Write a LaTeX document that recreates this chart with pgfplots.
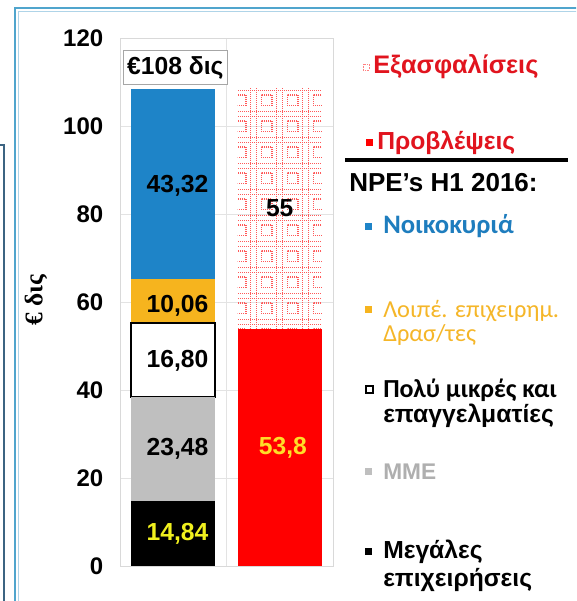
\documentclass[border=0pt]{standalone}
\usepackage{fontspec}
\setmainfont{Liberation Sans}
\newfontfamily\serifgr{Liberation Serif}
\newfontfamily\calib{Carlito}
\usepackage{pgfplots}
\pgfplotsset{compat=1.18}
\usetikzlibrary{patterns}
\definecolor{mblue}{RGB}{30,132,200}
\definecolor{morange}{RGB}{246,180,30}
\definecolor{mgray}{RGB}{191,191,191}
\definecolor{mred}{RGB}{255,0,0}
\definecolor{lred}{RGB}{225,20,30}
\definecolor{lblue}{RGB}{30,125,190}
\definecolor{lorange}{RGB}{245,182,40}
\definecolor{lgray}{RGB}{175,175,175}
\definecolor{ylab}{RGB}{240,240,30}
\definecolor{ylab2}{RGB}{255,222,40}
\definecolor{frameblue}{RGB}{80,165,205}
\definecolor{framelight}{RGB}{175,212,232}
\definecolor{darkbox}{RGB}{60,100,130}
\pgfdeclarepatternformonly{redgrid}{\pgfqpoint{-1pt}{-1pt}}{\pgfqpoint{20pt}{20pt}}{\pgfqpoint{19.5pt}{19.5pt}}{%
  \pgfsetdash{{0.8pt}{0.7pt}}{0pt}%
  \pgfsetlinewidth{1pt}%
  \pgfpathrectangle{\pgfqpoint{1pt}{1pt}}{\pgfqpoint{8pt}{8pt}}%
  \pgfusepath{stroke}%
  \pgfsetlinewidth{0.7pt}%
  \pgfpathmoveto{\pgfqpoint{0pt}{12.5pt}}\pgfpathlineto{\pgfqpoint{19.5pt}{12.5pt}}%
  \pgfpathmoveto{\pgfqpoint{0pt}{16.5pt}}\pgfpathlineto{\pgfqpoint{19.5pt}{16.5pt}}%
  \pgfpathmoveto{\pgfqpoint{12.5pt}{0pt}}\pgfpathlineto{\pgfqpoint{12.5pt}{19.5pt}}%
  \pgfpathmoveto{\pgfqpoint{16.5pt}{0pt}}\pgfpathlineto{\pgfqpoint{16.5pt}{19.5pt}}%
  \pgfusepath{stroke}}
\tikzset{lbl/.style={font=\fontsize{18.5}{18.5}\selectfont\bfseries, inner sep=0pt},
  leg/.style={anchor=west, inner sep=0pt}}
\begin{document}
\begin{tikzpicture}[x=0.75pt,y=0.75pt]
\useasboundingbox (0,0) rectangle (576,601);
\clip (0,0) rectangle (576,601);
\fill[white] (0,0) rectangle (576,601);
\draw[darkbox, line width=1.2pt] (0,456) -- (4,456) -- (4,-19);
\draw[frameblue, line width=1.6pt] (15,593) rectangle (620,-39);
\draw[framelight, line width=1.2pt] (18.5,589.5) rectangle (620,-39);
\begin{axis}[
  at={(90pt,26.25pt)}, anchor=south west,
  scale only axis, width=159.75pt, height=396pt,
  ybar stacked, bar width=0.79,
  xmin=-0.5, xmax=1.5, ymin=0, ymax=120,
  ytick={0,20,...,120}, xtick={0.5}, xticklabels={},
  xmajorgrids, ymajorgrids,
  grid style={gray!22, line width=0.6pt},
  axis line style={gray!30, line width=0.6pt},
  major tick length=0pt,
  /pgf/number format/assume math mode=true,
  yticklabel style={font=\fontsize{18}{18}\selectfont\bfseries, xshift=-9pt},
]
\addplot[fill=black, draw=none] coordinates {(0,14.84) (1,0)};
\addplot[fill=mgray, draw=none] coordinates {(0,23.48) (1,0)};
\addplot[fill=white, draw=black, line width=1.5pt] coordinates {(0,16.80) (1,0)};
\addplot[fill=morange, draw=none] coordinates {(0,10.06) (1,0)};
\addplot[fill=mblue, draw=none] coordinates {(0,43.32) (1,0)};
\addplot[fill=mred, draw=none] coordinates {(0,0) (1,53.8)};
\addplot[pattern=redgrid, pattern color=mred!65, draw=none] coordinates {(0,0) (1,55)};
\coordinate (l1) at (axis cs:0.04,7.42);
\coordinate (l2) at (axis cs:0.04,26.58);
\coordinate (l3) at (axis cs:0.04,46.72);
\coordinate (l4) at (axis cs:0.04,59.15);
\coordinate (l5) at (axis cs:0.04,86.4);
\coordinate (r1) at (axis cs:1.03,26.9);
\coordinate (r2) at (axis cs:1.0,81.3);
\coordinate (tb) at (axis cs:0.02,113.3);
\end{axis}
\node[lbl, ylab] at (l1) {14,84};
\node[lbl] at (l2) {23,48};
\node[lbl] at (l3) {16,80};
\node[lbl] at (l4) {10,06};
\node[lbl] at (l5) {43,32};
\node[lbl, ylab2] at (r1) {53,8};
\node[lbl] at (r2) {55};
\node[lbl, draw=gray!70, line width=0.8pt, fill=white, minimum width=78pt, minimum height=26pt] at (tb) {€108 δις};
\node[rotate=90, font=\serifgr\fontsize{19}{19}\selectfont\bfseries] at (36,301) {€ δις};
\draw[mred!50, line width=0.5pt, dash pattern=on 0.6pt off 0.6pt] (363,537) rectangle (369,531);
\node[leg, lred, font=\fontsize{19}{19}\selectfont\bfseries] at (373,534) {Εξασφαλίσεις};
\fill[mred] (366,462) rectangle (373,455);
\node[leg, lred, font=\fontsize{18.5}{18.5}\selectfont\bfseries] at (377,458) {Προβλέψεις};
\draw[black, line width=2.3pt] (345,441) -- (568,441);
\node[leg, black, font=\fontsize{19.5}{19.5}\selectfont\bfseries] at (349,418) {NPE's H1 2016:};
\fill[mblue] (365,378) rectangle (372,371);
\node[leg, lblue, font=\calib\fontsize{20}{20}\selectfont\bfseries] at (383,375) {Νοικοκυριά};
\fill[morange] (365,295) rectangle (372,288);
\node[leg, lorange, font=\calib\fontsize{18.3}{18.3}\selectfont] at (383,290) {Λοιπέ. επιχειρημ.};
\node[leg, lorange, font=\calib\fontsize{18.3}{18.3}\selectfont] at (383,266) {Δρασ/τες};
\draw[black, line width=0.8pt] (366,215) rectangle (373,208);
\node[leg, black, font=\calib\fontsize{19.5}{19.5}\selectfont\bfseries] at (383,211) {Πολύ μικρές και};
\node[leg, black, font=\fontsize{18.5}{18.5}\selectfont\bfseries] at (383,185) {επαγγελματίες};
\fill[mgray] (365,133) rectangle (372,126);
\node[leg, lgray, font=\fontsize{17}{17}\selectfont\bfseries] at (383,129) {ΜΜΕ};
\fill[black] (365,53) rectangle (372,46);
\node[leg, black, font=\fontsize{18.5}{18.5}\selectfont\bfseries] at (383,49) {Μεγάλες};
\node[leg, black, font=\fontsize{18.5}{18.5}\selectfont\bfseries] at (383,21) {επιχειρήσεις};
\end{tikzpicture}
\end{document}
